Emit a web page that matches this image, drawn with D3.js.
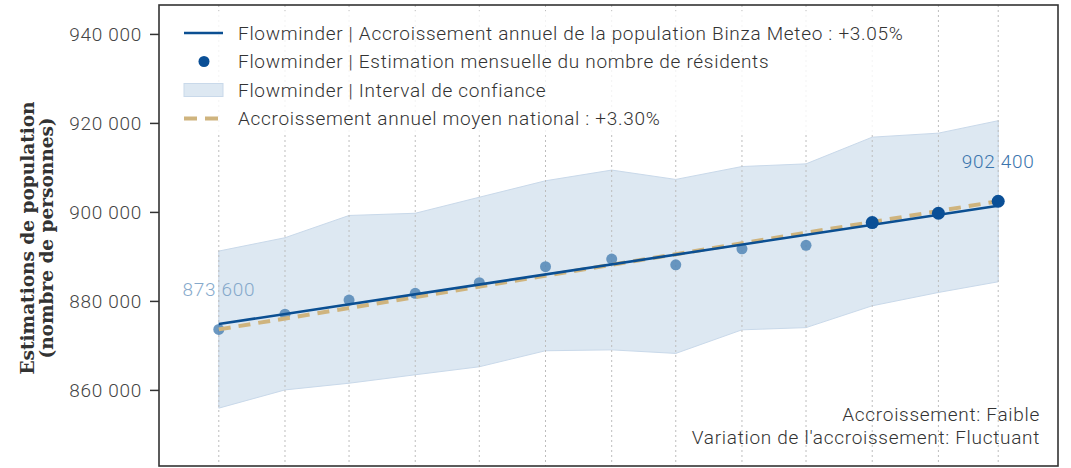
<!DOCTYPE html>
<html>
<head>
<meta charset="utf-8">
<script src="https://cdn.jsdelivr.net/npm/d3@7"></script>
<style>
  body { margin: 0; background: #fff; }
  svg { display: block; }
  text { font-family: Roboto, "Open Sans", sans-serif; font-weight: 300; letter-spacing: 0.7px; }
</style>
</head>
<body>
<script>
// monthly points, Flowminder estimates
const months = ["2022-03-01","2022-04-01","2022-05-01","2022-06-01","2022-07-01","2022-08-01",
  "2022-09-01","2022-10-01","2022-11-01","2022-12-01","2023-01-01","2023-02-01","2023-03-01"]
const estimates = [873600, 877000, 880200, 881700, 884100, 887700, 889400, 888100, 891700, 892500, 897600, 899700, 902400]
const lower = [855900, 860000, 861500, 863400, 865200, 868800, 869000, 868200, 873500, 874000, 878900, 881900, 884300]
const upper = [891200, 894200, 899200, 899700, 903300, 907000, 909400, 907300, 910200, 910800, 916800, 917700, 920500]
const recent = [false, false, false, false, false, false, false, false, false, false, true, true, true]

// growth lines (start / end of period)
const localTrend = [874800, 901400]
const nationalTrend = [873600, 902400]

const yTicks = [860000, 880000, 900000, 920000, 940000]
const legendLabels = [
  "Flowminder | Accroissement annuel de la population Binza Meteo : +3.05%",
  "Flowminder | Estimation mensuelle du nombre de résidents",
  "Flowminder | Interval de confiance",
  "Accroissement annuel moyen national : +3.30%"
]
const notes = ["Accroissement: Faible", "Variation de l'accroissement: Fluctuant"]

const W = 1071, H = 468
const mL = 159, mT = 5, mR = 1058, mB = 466

const dates = months.map(d => new Date(d + "T00:00:00Z"))
const rows = dates.map((d, i) => ({ date: d, v: estimates[i], lo: lower[i], hi: upper[i], recent: recent[i] }))

const x = d3.scaleUtc()
  .domain([new Date("2022-02-01T00:00:00Z"), new Date("2023-03-29T00:00:00Z")])
  .range([mL, mR])
const y = d3.scaleLinear()
  .domain([842900, 946500])
  .range([mB, mT])

const fr = d3.formatLocale({ decimal: ".", thousands: " ", grouping: [3], currency: ["", ""] })
const fmt = fr.format(",")

const svg = d3.select("body").append("svg")
  .attr("width", W).attr("height", H)

// confidence band
svg.append("path")
  .datum(rows)
  .attr("d", d3.area().x(d => x(d.date)).y0(d => y(d.lo)).y1(d => y(d.hi)))
  .attr("fill", "#dde8f2")
  .attr("stroke", "#c9d9ea")
  .attr("stroke-width", 1)

// vertical dotted grid
svg.append("g")
  .selectAll("line")
  .data(dates)
  .join("line")
  .attr("x1", d => x(d)).attr("x2", d => x(d))
  .attr("y1", mT).attr("y2", mB)
  .attr("stroke", "#bdbdbd")
  .attr("stroke-width", 1)
  .attr("stroke-dasharray", "2,3")

// light (older) points, under the lines
svg.append("g")
  .selectAll("circle")
  .data(rows.filter(d => !d.recent))
  .join("circle")
  .attr("cx", d => x(d.date))
  .attr("cy", d => y(d.v))
  .attr("r", 5.5)
  .attr("fill", "#5286b6")
  .attr("fill-opacity", 0.85)

const trendX = [dates[0], dates[dates.length - 1]]
const ln = d3.line().x(d => x(d[0])).y(d => y(d[1]))

svg.append("path")
  .attr("d", ln(trendX.map((d, i) => [d, nationalTrend[i]])))
  .attr("fill", "none")
  .attr("stroke", "#cfb47e")
  .attr("stroke-width", 4)
  .attr("stroke-dasharray", "12,8")

svg.append("path")
  .attr("d", ln(trendX.map((d, i) => [d, localTrend[i]])))
  .attr("fill", "none")
  .attr("stroke", "#0b4f92")
  .attr("stroke-width", 2.6)

// recent points on top
svg.append("g")
  .selectAll("circle")
  .data(rows.filter(d => d.recent))
  .join("circle")
  .attr("cx", d => x(d.date))
  .attr("cy", d => y(d.v))
  .attr("r", 6.5)
  .attr("fill", "#0a4f96")

// first / last value labels
const first = rows[0], last = rows[rows.length - 1]
svg.append("text")
  .attr("x", x(first.date)).attr("y", y(first.v) - 33)
  .attr("text-anchor", "middle")
  .attr("font-size", 19)
  .attr("fill", "#86a9cb")
  .text(fmt(first.v))
svg.append("text")
  .attr("x", x(last.date)).attr("y", y(last.v) - 33)
  .attr("text-anchor", "middle")
  .attr("font-size", 19)
  .attr("fill", "#3b75ad")
  .text(fmt(last.v))

// legend
const lg = svg.append("g")
lg.append("rect")
  .attr("x", 172).attr("y", 11).attr("width", 746).attr("height", 122)
  .attr("fill", "#fff").attr("fill-opacity", 0.82)
const rowY = i => 33 + i * 28.5
lg.append("line").attr("x1", 184).attr("x2", 223).attr("y1", rowY(0)).attr("y2", rowY(0))
  .attr("stroke", "#0b4f92").attr("stroke-width", 2.6)
lg.append("circle").attr("cx", 204).attr("cy", rowY(1)).attr("r", 5.5).attr("fill", "#0a4f96")
lg.append("rect").attr("x", 184).attr("y", rowY(2) - 6.5).attr("width", 39).attr("height", 13)
  .attr("fill", "#dde8f2").attr("stroke", "#c9d9ea")
lg.append("line").attr("x1", 184).attr("x2", 223).attr("y1", rowY(3)).attr("y2", rowY(3))
  .attr("stroke", "#cfb47e").attr("stroke-width", 4).attr("stroke-dasharray", "13,8")
lg.selectAll("text.lg")
  .data(legendLabels)
  .join("text")
  .attr("class", "lg")
  .attr("x", 238)
  .attr("y", (d, i) => rowY(i) + 6.5)
  .attr("font-size", 19)
  .attr("fill", "#333")
  .text(d => d)

// y axis
const yAxis = svg.append("g")
  .attr("transform", "translate(" + mL + ",0)")
  .call(d3.axisLeft(y).tickValues(yTicks).tickFormat(fmt).tickSize(9).tickPadding(8))
yAxis.select(".domain").remove()
yAxis.selectAll(".tick line").attr("stroke", "#333").attr("stroke-width", 1.5)
yAxis.selectAll(".tick text")
  .attr("font-size", 19)
  .attr("font-family", "Roboto, sans-serif")
  .attr("font-weight", 300)
  .attr("fill", "#444")

// axis title
const title = svg.append("text")
  .attr("transform", "translate(0,238) rotate(-90)")
  .attr("text-anchor", "middle")
  .style("font-family", "'DejaVu Serif', 'Liberation Serif', serif")
  .style("font-weight", 700)
  .style("letter-spacing", "0px")
  .attr("font-size", 18.5)
  .attr("fill", "#333")
title.append("tspan").attr("x", 0).attr("y", 34).text("Estimations de population")
title.append("tspan").attr("x", 0).attr("y", 53).text("(nombre de personnes)")

// notes, bottom right
svg.selectAll("text.note")
  .data(notes)
  .join("text")
  .attr("class", "note")
  .attr("x", 1040)
  .attr("y", (d, i) => 421 + i * 22.5)
  .attr("text-anchor", "end")
  .attr("font-size", 19)
  .attr("fill", "#333")
  .text(d => d)

// frame
svg.append("rect")
  .attr("x", mL).attr("y", mT)
  .attr("width", mR - mL).attr("height", mB - mT)
  .attr("fill", "none")
  .attr("stroke", "#333")
  .attr("stroke-width", 1.6)
</script>
</body>
</html>
